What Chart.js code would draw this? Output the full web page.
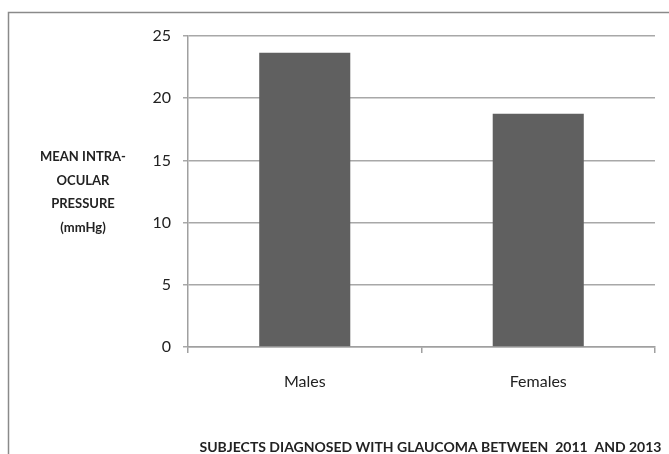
<!DOCTYPE html>
<html>
<head>
<meta charset="utf-8">
<script src="https://cdn.jsdelivr.net/npm/chart.js@4"></script>
<style>
html,body{margin:0;padding:0;background:#fff;}
#wrap{width:669px;height:454px;position:relative;}
</style>
</head>
<body>
<div id="wrap"><canvas id="c" width="669" height="454"></canvas></div>
<script>
const categories = ["Males", "Females"];
const meanIOP = [23.65, 18.75];
const yTicks = [0, 5, 10, 15, 20, 25];
const yTitleLines = ["MEAN INTRA-", "OCULAR", "PRESSURE", "(mmHg)"];
const xTitle = "SUBJECTS DIAGNOSED WITH GLAUCOMA BETWEEN  2011  AND 2013";

const FONT = "Lato, 'Open Sans', sans-serif";

const framePlugin = {
  id: 'frame',
  beforeDraw(chart) {
    const ctx = chart.ctx;
    ctx.save();
    ctx.fillStyle = '#fff';
    ctx.fillRect(0, 0, chart.width, chart.height);
    ctx.strokeStyle = '#8a8a8a';
    ctx.lineWidth = 1.5;
    ctx.strokeRect(8.5, 12.5, chart.width + 10, chart.height + 10);
    ctx.restore();
  },
  afterDraw(chart) {
    const ctx = chart.ctx;
    const a = chart.chartArea;
    ctx.save();
    ctx.fillStyle = '#222';
    ctx.textAlign = 'center';
    ctx.textBaseline = 'middle';
    ctx.font = "bold 13px " + FONT;
    const cx = 83, cy0 = 157, lh = 23.5;
    yTitleLines.forEach((t, i) => ctx.fillText(t, cx, cy0 + i * lh));
    ctx.font = "bold 14px " + FONT;
    ctx.fillText(xTitle, (a.left + a.right) / 2 + 9, 447);
    ctx.restore();
  }
};

new Chart(document.getElementById('c'), {
  type: 'bar',
  data: {
    labels: categories,
    datasets: [{
      data: meanIOP,
      backgroundColor: '#606060',
      borderWidth: 0,
      categoryPercentage: 1,
      barPercentage: 0.39
    }]
  },
  options: {
    responsive: false,
    animation: false,
    devicePixelRatio: 1,
    layout: { padding: { top: 36, right: 14, left: 0, bottom: 0 } },
    plugins: { legend: { display: false }, tooltip: { enabled: false } },
    scales: {
      x: {
        offset: true,
        grid: { display: true, drawOnChartArea: false, drawTicks: true, tickLength: 6, offset: true, color: '#a0a0a0', lineWidth: 1.5 },
        border: { display: true, color: '#a0a0a0', width: 1.5 },
        ticks: { color: '#222', font: { family: FONT, size: 16 }, padding: 19 },
        afterFit(s) { s.height = 107; }
      },
      y: {
        min: 0, max: 25,
        afterBuildTicks(s) { s.ticks = yTicks.map(v => ({ value: v })); },
        grid: { color: '#a8a8a8', lineWidth: 1.5, drawTicks: true, tickLength: 5 },
        border: { display: true, color: '#a0a0a0', width: 1.5 },
        ticks: { color: '#222', font: { family: FONT, size: 16 }, padding: 12 },
        afterFit(s) { s.width = 188; }
      }
    }
  },
  plugins: [framePlugin]
});
</script>
</body>
</html>
